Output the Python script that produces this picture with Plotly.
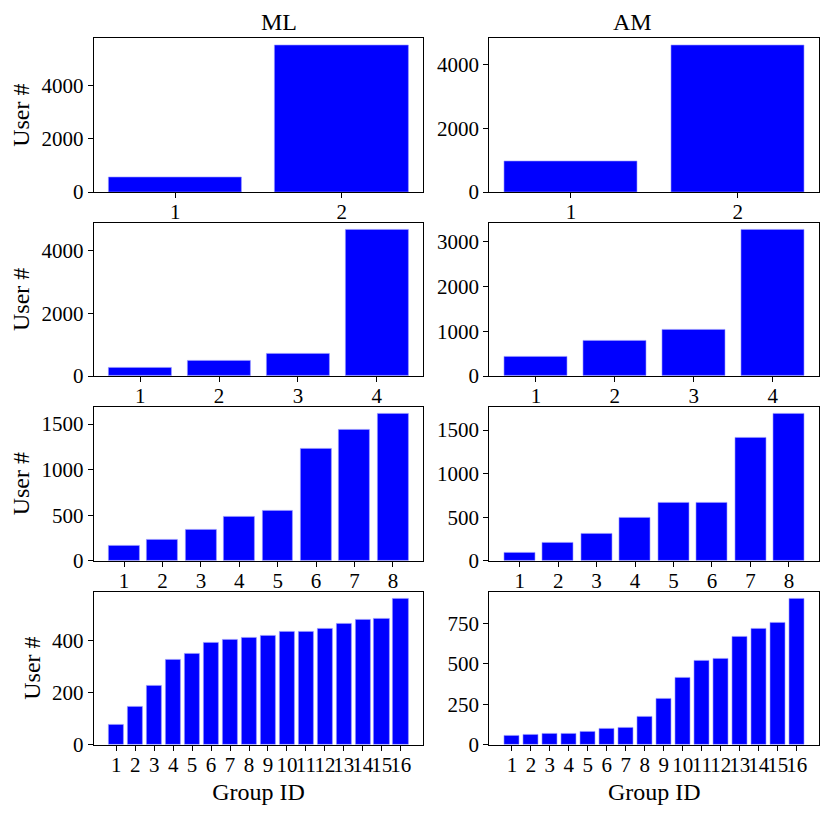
import plotly.graph_objects as go
from plotly.subplots import make_subplots

# user counts per group
ml_2 = [550, 5500]
am_2 = [950, 4600]
ml_4 = [250, 480, 700, 4650]
am_4 = [440, 795, 1025, 3265]
ml_8 = [165, 228, 342, 478, 548, 1232, 1441, 1610]
am_8 = [88, 212, 312, 496, 662, 669, 1415, 1685]
ml_16 = [75, 146, 225, 324, 350, 390, 403, 410, 418, 433, 434, 445, 464, 478, 483, 558]
am_16 = [56, 58, 64, 66, 81, 101, 107, 174, 285, 413, 519, 535, 671, 719, 758, 903]

# y tick values per panel (row-major: ML, AM)
yticks = [
    [0, 2000, 4000], [0, 2000, 4000],
    [0, 2000, 4000], [0, 1000, 2000, 3000],
    [0, 500, 1000, 1500], [0, 500, 1000, 1500],
    [0, 200, 400], [0, 250, 500, 750],
]

panels = [ml_2, am_2, ml_4, am_4, ml_8, am_8, ml_16, am_16]

W, H = 831, 816
col_px = [(93.7, 423.3), (489.3, 819.3)]
row_px = [(38.3, 192), (222.7, 376), (406.7, 560.7), (591.7, 744.5)]

FONT = "Liberation Serif"
fig = make_subplots(rows=4, cols=2)

for i, vals in enumerate(panels):
    r, c = i // 2 + 1, i % 2 + 1
    n = len(vals)
    ids = list(range(1, n + 1))
    fig.add_trace(go.Bar(x=ids, y=vals, width=0.8, marker_color='blue',
                         marker_line=dict(color='#9999ff', width=0.6),
                         showlegend=False), row=r, col=c)
    pad = 0.05 * (n - 0.2)
    x0, x1 = col_px[c - 1]
    y0, y1 = row_px[r - 1]
    fig.update_xaxes(range=[0.6 - pad, n + 0.4 + pad], tickvals=ids,
                     ticktext=[str(k) for k in ids],
                     domain=[x0 / W, x1 / W], row=r, col=c)
    fig.update_yaxes(range=[0, max(vals) * 1.05], tickvals=yticks[i],
                     domain=[1 - y1 / H, 1 - y0 / H], row=r, col=c)

axis_style = dict(showline=True, mirror=True, linecolor='black', linewidth=1.2,
                  ticks='outside', ticklen=5, tickcolor='black', showgrid=False,
                  zeroline=False, automargin=False,
                  tickfont=dict(family=FONT, size=21, color='black'))
fig.update_xaxes(tickangle=0, ticklabelstandoff=-4, **axis_style)
fig.update_yaxes(**axis_style)

for r in range(1, 5):
    fig.update_yaxes(title_text='User #', title_standoff=4,
                     title_font=dict(family=FONT, size=24, color='black'), row=r, col=1)
for c in (1, 2):
    fig.update_xaxes(title_text='Group ID', title_standoff=7,
                     title_font=dict(family=FONT, size=24, color='black'), row=4, col=c)

for c, name in enumerate(['ML', 'AM']):
    x0, x1 = col_px[c]
    fig.add_annotation(text=name, x=(x0 + x1) / 2 / W, y=1 - 22 / H,
                       xref='paper', yref='paper', yanchor='middle', showarrow=False,
                       font=dict(family=FONT, size=24, color='black'))

fig.update_layout(width=W, height=H, margin=dict(l=0, r=0, t=0, b=0),
                  plot_bgcolor='white', paper_bgcolor='white', bargap=0)

# drop the page's default body margin so the figure sits at the window origin
fig.write_html("out.html", config={'responsive': False, 'displayModeBar': False},
               post_script="document.body.style.margin='0';document.body.style.overflow='hidden';")
